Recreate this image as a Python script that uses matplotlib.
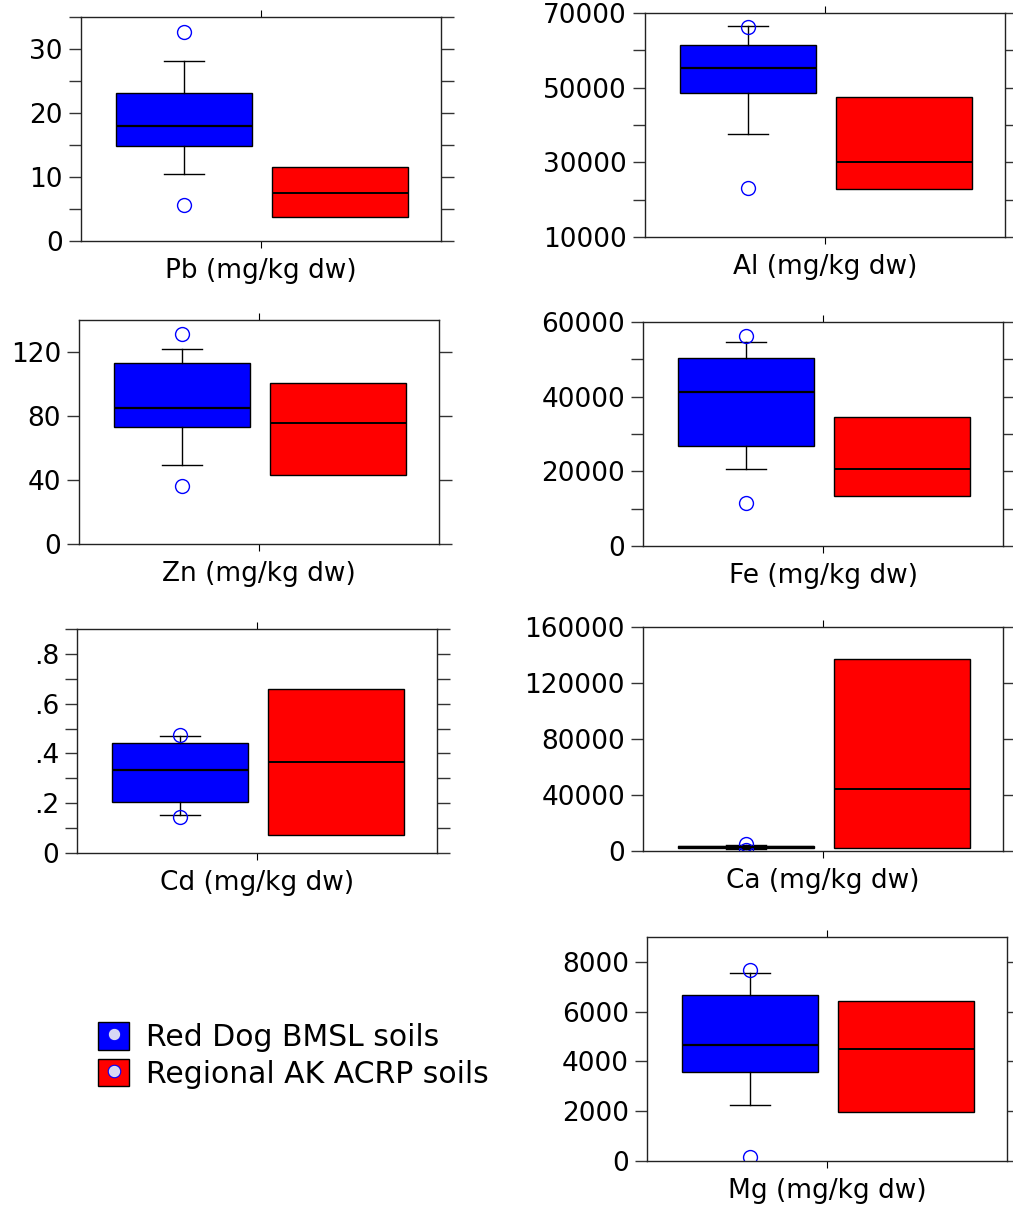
import matplotlib
matplotlib.use("Agg")
import matplotlib.pyplot as plt
from matplotlib.ticker import MultipleLocator, FuncFormatter, NullLocator
from matplotlib.patches import Patch
from matplotlib.lines import Line2D

plt.rcParams["font.family"] = ["DejaVu Sans"]

# box statistics, mg/kg dry weight
elements = ["Pb", "Zn", "Cd", "Al", "Fe", "Ca", "Mg"]

# Red Dog BMSL soils
bmsl_whislo = [10.4, 49.6, 0.154, 37600, 20500, 1300, 2250]
bmsl_q1 = [14.8, 73.3, 0.204, 48600, 26900, 2000, 3560]
bmsl_med = [18.0, 85.2, 0.334, 55350, 41200, 2700, 4650]
bmsl_q3 = [23.2, 112.9, 0.441, 61500, 50400, 3400, 6650]
bmsl_whishi = [28.2, 121.9, 0.470, 66400, 54700, 4300, 7550]
bmsl_fliers = [[32.7, 5.65], [131.1, 36.0], [0.474, 0.143], [66300, 23100],
               [56300, 11500], [5200, 600], [7680, 150]]

# Regional AK ACRP soils
acrp_q1 = [3.75, 43.1, 0.071, 22900, 13500, 1900, 1970]
acrp_med = [7.46, 75.6, 0.365, 30200, 20500, 44000, 4500]
acrp_q3 = [11.6, 100.7, 0.658, 47500, 34500, 137500, 6430]

# axis ranges and tick spacing per element: (ymin, ymax, major, minor)
yaxes = {
    "Pb": (0, 35, 10, 5),
    "Zn": (0, 140, 40, None),
    "Cd": (0, 0.9, 0.2, 0.1),
    "Al": (10000, 70000, 20000, 10000),
    "Fe": (0, 60000, 20000, 10000),
    "Ca": (0, 160000, 40000, None),
    "Mg": (0, 9000, 2000, None),
}

# panel placement in pixels: left, top
W, H = 1013, 1205
panel_px = {
    "Pb": (81, 17), "Zn": (79, 320), "Cd": (77, 629),
    "Al": (645, 13), "Fe": (643, 322), "Ca": (643, 627), "Mg": (647, 937),
}
PW, PH = 360, 224

BLUE = "#0000ff"
RED = "#ff0000"
FS = 19

fig = plt.figure(figsize=(W / 100, H / 100), dpi=100)

for i, el in enumerate(elements):
    left, top = panel_px[el]
    ax = fig.add_axes([left / W, 1 - (top + PH) / H, PW / W, PH / H])

    blue_stats = [dict(med=bmsl_med[i], q1=bmsl_q1[i], q3=bmsl_q3[i],
                       whislo=bmsl_whislo[i], whishi=bmsl_whishi[i],
                       fliers=bmsl_fliers[i])]
    red_stats = [dict(med=acrp_med[i], q1=acrp_q1[i], q3=acrp_q3[i],
                      whislo=acrp_q1[i], whishi=acrp_q3[i], fliers=[])]

    ax.bxp(blue_stats, positions=[0.286], widths=[0.378], capwidths=[0.11],
           patch_artist=True, manage_ticks=False,
           boxprops=dict(facecolor=BLUE, edgecolor="black", linewidth=1),
           medianprops=dict(color="black", linewidth=1.6),
           whiskerprops=dict(color="black", linewidth=1),
           capprops=dict(color="black", linewidth=1),
           flierprops=dict(marker="o", markerfacecolor="none",
                           markeredgecolor=BLUE, markersize=10,
                           markeredgewidth=1))
    ax.bxp(red_stats, positions=[0.72], widths=[0.378], showcaps=False,
           patch_artist=True, manage_ticks=False,
           boxprops=dict(facecolor=RED, edgecolor="black", linewidth=1),
           medianprops=dict(color="black", linewidth=1.4),
           whiskerprops=dict(linewidth=0),
           showfliers=False)

    ymin, ymax, major, minor = yaxes[el]
    ax.set_xlim(0, 1)
    ax.set_ylim(ymin, ymax)
    ax.yaxis.set_major_locator(MultipleLocator(major, offset=ymin % major))
    if minor:
        ax.yaxis.set_minor_locator(MultipleLocator(minor))
    else:
        ax.yaxis.set_minor_locator(NullLocator())
    if el == "Cd":
        ax.yaxis.set_major_formatter(FuncFormatter(
            lambda v, p: "0" if abs(v) < 1e-9 else ("%.1f" % v).lstrip("0")))
    else:
        ax.yaxis.set_major_formatter(FuncFormatter(lambda v, p: "%d" % round(v)))

    ax.set_xticks([0.5])
    ax.tick_params(axis="x", which="both", direction="out", top=True,
                   bottom=True, length=5, labelbottom=False, color="black")
    ax.tick_params(axis="y", which="both", direction="out", left=True,
                   right=True, length=9, width=1, pad=4, labelsize=FS,
                   color="#333333")
    for s in ax.spines.values():
        s.set_linewidth(1)
        s.set_color("#222222")
    ax.set_xlabel(f"{el} (mg/kg dw)", fontsize=19, labelpad=7)

# legend with a small lavender dot inside each swatch
dot = dict(marker="o", linestyle="none", markersize=9,
           markerfacecolor="#d8d8f4", markeredgecolor=BLUE, markeredgewidth=0.8)
handles = [
    (Patch(facecolor=BLUE, edgecolor="black", linewidth=1), Line2D([], [], **dot)),
    (Patch(facecolor=RED, edgecolor="black", linewidth=1), Line2D([], [], **dot)),
]
fig.legend(handles, ["Red Dog BMSL soils", "Regional AK ACRP soils"],
           loc="upper left", bbox_to_anchor=(98 / W, 1 - 1022 / H),
           frameon=False, fontsize=21.5, handlelength=1.05, handleheight=1.05,
           handletextpad=0.55, labelspacing=0.22, borderpad=0, borderaxespad=0)

plt.savefig("out.png", dpi=100)
plt.close()
